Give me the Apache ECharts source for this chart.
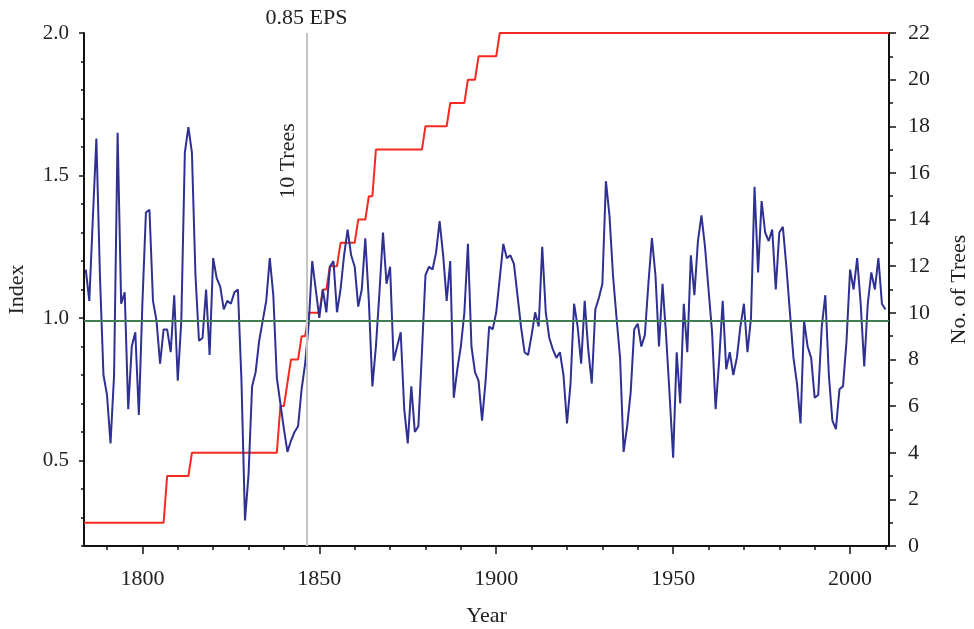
<!DOCTYPE html>
<html><head><meta charset="utf-8">
<script src="https://cdn.jsdelivr.net/npm/echarts@6/dist/echarts.min.js"></script>
<style>html,body{margin:0;padding:0;background:#fff}#c{width:974px;height:629px}</style>
</head><body><div id="c"></div>
<script>
// ---- data ----
const firstYear = 1784;
const indexValues = [
  1.17, 1.06, 1.35, 1.63, 1.15, 0.80, 0.73, 0.56, 0.80, 1.65,
  1.05, 1.09, 0.68, 0.90, 0.95, 0.66, 1.05, 1.37, 1.38, 1.06,
  0.99, 0.84, 0.96, 0.96, 0.88, 1.08, 0.78, 0.99, 1.58, 1.67,
  1.58, 1.15, 0.92, 0.93, 1.10, 0.87, 1.21, 1.14, 1.11, 1.03,
  1.06, 1.05, 1.09, 1.10, 0.78, 0.29, 0.45, 0.76, 0.81, 0.92,
  0.99, 1.06, 1.21, 1.08, 0.79, 0.70, 0.61, 0.53, 0.57, 0.60,
  0.62, 0.75, 0.84, 0.98, 1.20, 1.10, 1.00, 1.10, 1.02, 1.18,
  1.20, 1.02, 1.10, 1.22, 1.31, 1.22, 1.18, 1.04, 1.10, 1.28,
  1.06, 0.76, 0.90, 1.09, 1.30, 1.12, 1.18, 0.85, 0.90, 0.95,
  0.68, 0.56, 0.76, 0.60, 0.62, 0.88, 1.15, 1.18, 1.17, 1.23,
  1.34, 1.22, 1.06, 1.20, 0.72, 0.82, 0.90, 1.02, 1.26, 0.90,
  0.81, 0.78, 0.64, 0.78, 0.97, 0.96, 1.02, 1.14, 1.26, 1.21,
  1.22, 1.19, 1.08, 0.97, 0.88, 0.87, 0.94, 1.02, 0.97, 1.25,
  1.02, 0.93, 0.89, 0.86, 0.88, 0.80, 0.63, 0.77, 1.05, 0.97,
  0.84, 1.06, 0.89, 0.77, 1.03, 1.07, 1.12, 1.48, 1.36, 1.15,
  1.00, 0.86, 0.53, 0.62, 0.74, 0.96, 0.98, 0.90, 0.94, 1.12,
  1.28, 1.15, 0.90, 1.12, 0.94, 0.73, 0.51, 0.88, 0.70, 1.05,
  0.88, 1.22, 1.08, 1.27, 1.36, 1.25, 1.10, 0.95, 0.68, 0.85,
  1.06, 0.82, 0.88, 0.80, 0.86, 0.97, 1.05, 0.88, 1.00, 1.46,
  1.16, 1.41, 1.30, 1.27, 1.31, 1.10, 1.30, 1.32, 1.18, 1.02,
  0.86, 0.77, 0.63, 0.99, 0.90, 0.86, 0.72, 0.73, 0.97, 1.08,
  0.80, 0.64, 0.61, 0.75, 0.76, 0.92, 1.17, 1.10, 1.21, 1.05,
  0.83, 1.05, 1.16, 1.10, 1.21, 1.05, 1.03
];
const treeYears  = [1783.5,1806,1807,1813,1814,1838,1839,1840,1841,1842,1844,1845,1846,1847,1850,1851,1852,1853,1855,1856,1860,1861,1863,1864,1865,1866,1879,1880,1886,1887,1891,1892,1894,1895,1900,1901,2011];
const treeCounts = [1,     1,   3,   3,   4,   4,   6,   6,   7,   8,   8,   9,   9,   10,  10,  11,  11,  12,  12,  13,  13,  14,  14,  15,  15,  17,  17,  18,  18,  19,  19,  20,  20,  21,  21,  22,  22];
const xLabelTicks = [1800, 1850, 1900, 1950, 2000];
const xMinorTicks = [1790, 1800, 1810, 1820, 1830, 1840, 1850, 1860, 1870, 1880, 1890, 1900, 1910, 1920, 1930, 1940, 1950, 1960, 1970, 1980, 1990, 2000, 2010];
const leftLabelTicks = [0.5, 1.0, 1.5, 2.0];
const leftMinorTicks = [0.2, 0.3, 0.4, 0.5, 0.6, 0.7, 0.8, 0.9, 1.0, 1.1, 1.2, 1.3, 1.4, 1.5, 1.6, 1.7, 1.8, 1.9, 2.0];
const meanIndex = 0.99;
const epsYear = 1846.4;
const epsLabel = '0.85 EPS';
const treesLabel = '10 Trees';

// ---- chart ----
const FONT = "'Liberation Serif','Times New Roman',serif";
const TXT = '#222';
const AX = '#111';
const chart = echarts.init(document.getElementById('c'), null, {renderer: 'canvas'});
const xMin = 1783.5, xMax = 2011;

const option = {
  animation: false,
  backgroundColor: '#fff',
  textStyle: {fontFamily: FONT},
  grid: {left: 84, right: 85, top: 33, bottom: 83, containLabel: false, outerBoundsMode: 'none'},
  xAxis: [
    {
      type: 'value', min: xMin, max: xMax, position: 'bottom',
      name: 'Year', nameLocation: 'middle', nameGap: 59,
      nameTextStyle: {fontFamily: FONT, fontSize: 22, color: TXT},
      axisLine: {show: true, onZero: false, lineStyle: {color: AX, width: 2}},
      axisTick: {show: true, customValues: xLabelTicks, length: 8, lineStyle: {color: AX, width: 1.5}},
      axisLabel: {show: true, customValues: xLabelTicks, fontFamily: FONT, fontSize: 22, color: TXT, margin: 22, formatter: v => String(v)},
      splitLine: {show: false}
    },
    {
      type: 'value', min: xMin, max: xMax, position: 'bottom',
      axisLine: {show: false},
      axisTick: {show: true, customValues: xMinorTicks, length: 4, lineStyle: {color: AX, width: 1.5}},
      axisLabel: {show: false},
      splitLine: {show: false}
    }
  ],
  yAxis: [
    {
      type: 'value', min: 0.2, max: 2.0, position: 'left',
      name: 'Index', nameLocation: 'middle', nameGap: 56, nameRotate: 90,
      nameTextStyle: {fontFamily: FONT, fontSize: 22, color: TXT},
      axisLine: {show: true, onZero: false, lineStyle: {color: AX, width: 2}},
      axisTick: {show: true, customValues: leftLabelTicks, length: 5, lineStyle: {color: AX, width: 1.5}},
      axisLabel: {show: true, customValues: leftLabelTicks, fontFamily: FONT, fontSize: 21, color: TXT, margin: 15, formatter: v => v.toFixed(1)},
      splitLine: {show: false}
    },
    {
      type: 'value', min: 0, max: 22, interval: 2, position: 'right',
      name: 'No. of Trees', nameLocation: 'middle', nameGap: 59, nameRotate: 90,
      nameTextStyle: {fontFamily: FONT, fontSize: 22, color: TXT},
      axisLine: {show: true, onZero: false, lineStyle: {color: AX, width: 2}},
      axisTick: {show: true, length: 7, lineStyle: {color: AX, width: 1.5}},
      minorTick: {show: true, splitNumber: 2, length: 4, lineStyle: {color: AX, width: 1.5}},
      axisLabel: {show: true, fontFamily: FONT, fontSize: 22, color: TXT, margin: 19},
      splitLine: {show: false}, minorSplitLine: {show: false}
    },
    {
      type: 'value', min: 0.2, max: 2.0, position: 'left',
      axisLine: {show: false},
      axisTick: {show: true, customValues: leftMinorTicks, length: 3, lineStyle: {color: AX, width: 1.5}},
      axisLabel: {show: false},
      splitLine: {show: false}
    }
  ],
  series: [
    {
      name: 'Trees', type: 'line', xAxisIndex: 0, yAxisIndex: 1, z: 2,
      data: treeYears.map((y, i) => [y, treeCounts[i]]),
      showSymbol: false, symbol: 'none',
      lineStyle: {color: '#f42a20', width: 2}
    },
    {
      name: 'Index', type: 'line', xAxisIndex: 0, yAxisIndex: 0, z: 3,
      data: indexValues.map((v, i) => [firstYear + i, v]),
      showSymbol: false, symbol: 'none',
      lineStyle: {color: '#2e3192', width: 2},
      markLine: {
        silent: true, symbol: 'none', animation: false,
        data: [
          {yAxis: meanIndex, lineStyle: {color: '#3f7d52', width: 2, type: 'solid'}, label: {show: false}},
          {xAxis: epsYear, lineStyle: {color: '#c4c4c4', width: 2, type: 'solid'},
           label: {show: true, position: 'end', formatter: epsLabel, fontFamily: FONT, fontSize: 22, color: TXT, distance: 4}}
        ]
      }
    }
  ]
};
chart.setOption(option);

const px = chart.convertToPixel({xAxisIndex: 0}, epsYear);
chart.setOption({
  graphic: [{
    type: 'text', x: px - 18, y: 161, rotation: Math.PI / 2,
    style: {text: treesLabel, font: '22px ' + FONT, fill: TXT, align: 'center', verticalAlign: 'middle'}
  }]
});
</script>
</body></html>
